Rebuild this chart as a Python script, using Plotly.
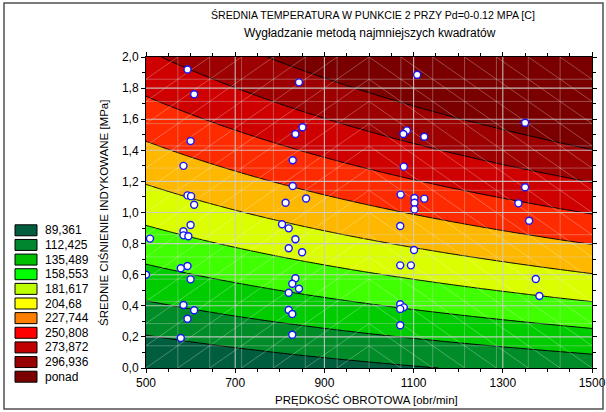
import numpy as np
import plotly.graph_objects as go

# ---------------- data ----------------
levels = [89.361, 112.425, 135.489, 158.553, 181.617, 204.68,
          227.744, 250.808, 273.872, 296.936]
legend_labels = ["89,361", "112,425", "135,489", "158,553", "181,617", "204,68",
                 "227,744", "250,808", "273,872", "296,936", "ponad"]
band_colors = ["#005E3E", "#00862E", "#00BE00", "#00FF00", "#BEFF00", "#FFFF00",
               "#FF8000", "#FF0000", "#C00000", "#980000", "#7A0000"]

# isoline readings from the picture: rpm, pressure, index of level
iso_x = [500, 755, 1025, 1249,
         500, 755, 1010, 1500,
         500, 755, 1010, 1500,
         500, 755, 1010, 1500,
         500, 733, 1010, 1500,
         500, 755, 1010, 1500,
         500, 755, 1010, 1262, 1500,
         540, 755, 1007, 1262, 1500,
         780, 1016, 1262, 1500,
         1036, 1262, 1500]
iso_y = [0.21, 0.094, 0.058, 0.0,
         0.44, 0.302, 0.20, 0.077,
         0.677, 0.517, 0.399, 0.244,
         0.924, 0.748, 0.612, 0.426,
         1.181, 1.003, 0.82, 0.613,
         1.449, 1.222, 1.042, 0.80,
         1.732, 1.479, 1.26, 1.10, 0.999,
         1.99, 1.754, 1.518, 1.325, 1.211,
         2.0, 1.758, 1.561, 1.404,
         2.0, 1.786, 1.614]
iso_lev = [0, 0, 0, 0,
           1, 1, 1, 1,
           2, 2, 2, 2,
           3, 3, 3, 3,
           4, 4, 4, 4,
           5, 5, 5, 5,
           6, 6, 6, 6, 6,
           7, 7, 7, 7, 7,
           8, 8, 8, 8,
           9, 9, 9]

# measured points (rpm, pressure)
pt_x = [593, 608, 600, 584, 593, 601, 608,
        843, 851, 835, 829, 829, 859, 813,
        1108, 1085, 1077, 1124, 1078, 1071, 1102, 1124, 1102, 1102,
        1350, 1350, 1335, 1359,
        600, 584, 584, 595, 509, 593, 578, 600, 500, 584, 608, 593, 578,
        805, 820, 835, 820, 850, 835, 828, 843, 820, 820, 828, 828,
        1070, 1101, 1070, 1094, 1374, 1382, 1070, 1078, 1070, 1070]
pt_y = [1.92, 1.76, 1.46, 1.30, 1.11, 1.105, 1.05,
        1.837, 1.548, 1.505, 1.336, 1.17, 1.09, 1.063,
        1.886, 1.528, 1.505, 1.487, 1.295, 1.115, 1.093, 1.089, 1.063, 1.02,
        1.577, 1.162, 1.059, 0.947,
        0.92, 0.879, 0.853, 0.847, 0.832, 0.656, 0.641, 0.57, 0.60, 0.405, 0.371, 0.317, 0.193,
        0.924, 0.898, 0.828, 0.77, 0.744, 0.577, 0.542, 0.51, 0.484, 0.373, 0.347, 0.214,
        0.913, 0.759, 0.66, 0.66, 0.572, 0.463, 0.41, 0.39, 0.38, 0.275]

x_ticks = [500, 700, 900, 1100, 1300, 1500]
y_ticks = [0.0, 0.2, 0.4, 0.6, 0.8, 1.0, 1.2, 1.4, 1.6, 1.8, 2.0]

title_main = "ŚREDNIA TEMPERATURA W PUNKCIE 2 PRZY Pd=0-0.12 MPA [C]"
title_sub = "Wygładzanie metodą najmniejszych kwadratów"
x_title = "PRĘDKOŚĆ OBROTOWA [obr/min]"
y_title = "ŚREDNIE CIŚNIENIE INDYKOWANE [MPa]"

# ---------------- smoothing surface (least squares) ----------------
X = np.array(iso_x, float)
Y = np.array(iso_y, float)
Z = np.array([levels[i] for i in iso_lev], float)


def feats(x, y):
    u = (x - 1000.0) / 500.0
    v = y - 1.0
    return np.stack([np.ones_like(u), u, v, u * u, u * v, v * v,
                     u ** 3, u * u * v, u * v * v, v ** 3], axis=-1)


coef, *_ = np.linalg.lstsq(feats(X, Y), Z, rcond=None)
gx = np.linspace(500, 1500, 201)
gy = np.linspace(0, 2, 201)
GX, GY = np.meshgrid(gx, gy)
GZ = feats(GX, GY) @ coef

step = levels[1] - levels[0]
fig = go.Figure()
fig.add_trace(go.Contour(
    x=gx, y=gy, z=GZ, autocontour=False,
    contours=dict(start=levels[0], end=levels[-1], size=step,
                  coloring="fill", showlines=True),
    colorscale=[[k / 10, c] for k, c in enumerate(band_colors)],
    line=dict(color="black", width=1), showscale=False, hoverinfo="skip"))

# mesh of the smoothing grid
mx = np.linspace(500, 1500, 15)
my = np.linspace(0, 2, 15)
dxs, dys = [], []
for i in range(14):
    for j in range(14):
        if mx[i] < 999:
            dxs += [mx[i], mx[i + 1], None]
            dys += [my[j], my[j + 1], None]
        else:
            dxs += [mx[i], mx[i + 1], None]
            dys += [my[j + 1], my[j], None]
fig.add_trace(go.Scatter(x=dxs, y=dys, mode="lines", hoverinfo="skip",
                         line=dict(color="rgba(255,255,255,0.35)", width=0.8)))
mlx, mly = [], []
for v in mx[1:-1]:
    mlx += [v, v, None]
    mly += [0, 2, None]
for v in my[1:-1]:
    mlx += [500, 1500, None]
    mly += [v, v, None]
fig.add_trace(go.Scatter(x=mlx, y=mly, mode="lines", hoverinfo="skip",
                         line=dict(color="rgba(215,215,215,0.35)", width=1)))

# major grid
gxs, gys = [], []
for v in x_ticks[1:-1]:
    gxs += [v, v, None]
    gys += [0, 2, None]
for v in y_ticks[1:-1]:
    gxs += [500, 1500, None]
    gys += [v, v, None]
fig.add_trace(go.Scatter(x=gxs, y=gys, mode="lines", hoverinfo="skip",
                         line=dict(color="rgba(205,205,205,0.9)", width=1.1)))

fig.add_trace(go.Scatter(x=pt_x, y=pt_y, mode="markers", hoverinfo="skip",
                         marker=dict(size=7, color="white",
                                     line=dict(color="#1414FF", width=1.4))))

# ---------------- layout ----------------
W, H = 606, 412
L, R, T, B = 146, 14, 57, 44
PW, PH = W - L - R, H - T - B


def px2x(px):
    return (px - L) / PW


def py2y(py):
    return (H - B - py) / PH


FONT = "Liberation Sans, Arial, sans-serif"
shapes = []
annotations = []
for k, (lab, col) in enumerate(zip(legend_labels, band_colors)):
    cy = 230.3 + 14.64 * k
    shapes.append(dict(type="rect", xref="paper", yref="paper",
                       x0=px2x(15), x1=px2x(37), y0=py2y(cy + 5.5), y1=py2y(cy - 5.5),
                       fillcolor=col, line=dict(color="black", width=1)))
    annotations.append(dict(text=lab, xref="paper", yref="paper", x=px2x(43),
                            y=py2y(cy), xanchor="left", yanchor="middle",
                            showarrow=False, font=dict(family=FONT, size=12, color="black")))

# outer frame
shapes.append(dict(type="rect", xref="paper", yref="paper",
                   x0=px2x(4), x1=px2x(603), y0=py2y(409), y1=py2y(3),
                   line=dict(color="#505050", width=1.5), fillcolor="rgba(0,0,0,0)"))

annotations += [
    dict(text=title_main, xref="paper", yref="paper", x=px2x(373), y=py2y(15),
         xanchor="center", yanchor="middle", showarrow=False,
         font=dict(family=FONT, size=10.6, color="black")),
    dict(text=title_sub, xref="paper", yref="paper", x=px2x(370), y=py2y(33),
         xanchor="center", yanchor="middle", showarrow=False,
         font=dict(family=FONT, size=12, color="black")),
    dict(text=x_title, xref="paper", yref="paper", x=px2x(366), y=py2y(400),
         xanchor="center", yanchor="middle", showarrow=False,
         font=dict(family=FONT, size=11.5, color="black")),
    dict(text=y_title, xref="paper", yref="paper", x=px2x(104), y=py2y(213),
         xanchor="center", yanchor="middle", showarrow=False, textangle=-90,
         font=dict(family=FONT, size=11.5, color="black")),
]

fig.update_layout(
    width=W, height=H, margin=dict(l=L, r=R, t=T, b=B, pad=0, autoexpand=False),
    paper_bgcolor="white", plot_bgcolor="white", showlegend=False,
    separators=",.", font=dict(family=FONT, size=12, color="black"),
    shapes=shapes, annotations=annotations,
    xaxis=dict(range=[500, 1500], tickvals=x_ticks, ticks="outside", ticklen=4,
               tickcolor="black", showline=True, linecolor="black", linewidth=1,
               mirror="ticks", showgrid=False, zeroline=False, automargin=False,
               minor=dict(dtick=50, tick0=500, ticks="outside", ticklen=3, tickcolor="black"),
               tickfont=dict(family=FONT, size=12), layer="above traces"),
    yaxis=dict(range=[0, 2], tickvals=y_ticks, tickformat=".1f", ticks="outside", ticklen=4,
               tickcolor="black", showline=True, linecolor="black", linewidth=1,
               mirror="ticks", showgrid=False, zeroline=False, automargin=False,
               minor=dict(dtick=0.1, tick0=0, ticks="outside", ticklen=3, tickcolor="black"),
               tickfont=dict(family=FONT, size=12), layer="above traces"),
)

fig.write_html("out.html", config={"displayModeBar": False},
               post_script="document.body.style.margin='0px';document.body.style.overflow='hidden';")
